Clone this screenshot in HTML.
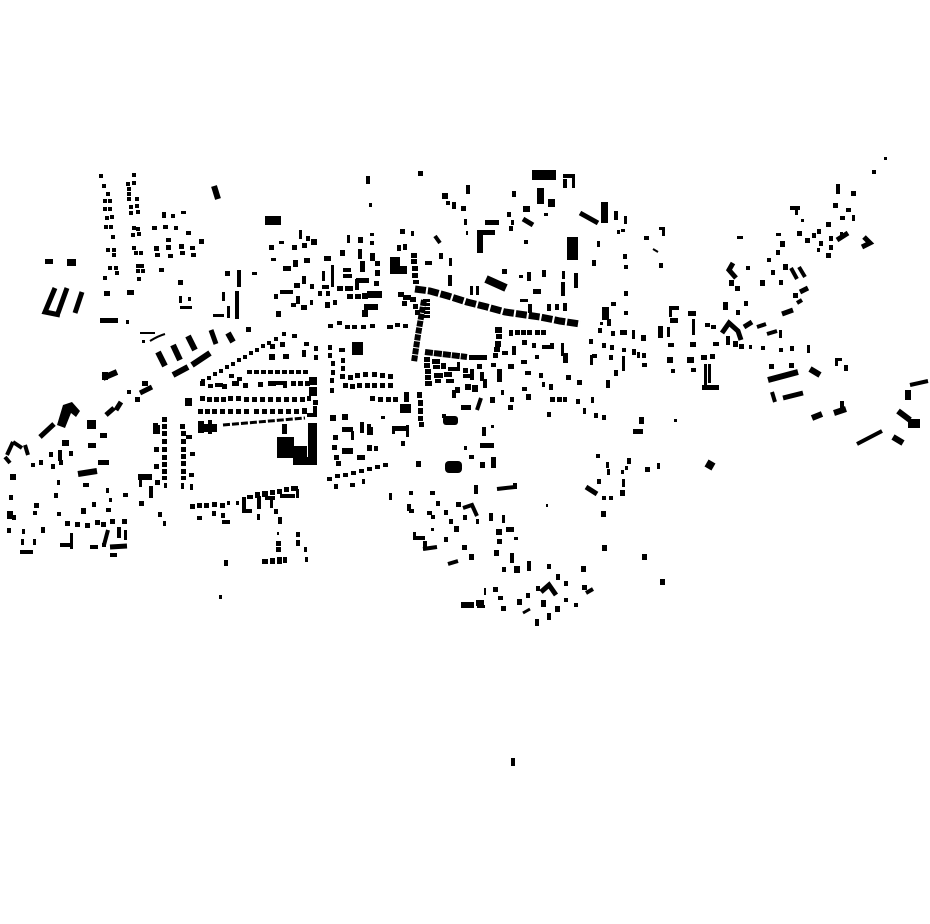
<!DOCTYPE html>
<html><head><meta charset="utf-8"><style>
html,body{margin:0;padding:0;background:#fff;}
body{width:930px;height:924px;overflow:hidden;position:relative;}
svg{position:absolute;left:0;top:0;}
</style></head><body>
<svg width="930" height="924" viewBox="0 0 930 924" xmlns="http://www.w3.org/2000/svg">
<rect width="930" height="924" fill="#fff"/>
<path fill="#000" d="
M99 174h4v4h-4zM102 184h4v4h-4zM106 192h4v4h-4zM103 199h4v4h-4zM108 199h4v4h-4zM103 207h4v4h-4zM108 207h4v4h-4zM105 216h4v4h-4zM110 215h4v4h-4zM104 225h4v4h-4zM109 225h4v4h-4zM111 235h4v4h-4zM106 248h4v4h-4zM112 248h4v4h-4zM112 253h4v4h-4zM108 266h4v4h-4zM114 266h4v4h-4zM115 271h4v4h-4zM103 276h4v4h-4z
M132 173h4v4h-4zM126 182h4v4h-4zM132 181h4v4h-4zM127 187h4v4h-4zM127 192h4v4h-4zM127 197h4v4h-4zM135 197h4v4h-4zM129 205h4v4h-4zM135 204h4v4h-4zM129 211h4v4h-4zM136 210h4v4h-4zM132 226h4v4h-4zM136 227h4v4h-4zM131 233h4v4h-4zM137 232h4v4h-4zM132 246h4v4h-4zM134 251h4v4h-4zM139 251h4v4h-4zM136 264h4v4h-4zM140 264h4v4h-4zM136 269h4v4h-4zM141 269h4v4h-4zM137 277h4v4h-4z
M162 212h4v6h-4zM171 214h4v4h-4zM181 211h5v3h-5zM152 226h5v4h-5zM163 225h5v4h-5zM174 226h4v4h-4zM186 231h5v4h-5zM199 239h5v5h-5zM166 238h5v4h-5zM154 246h5v5h-5zM166 245h5v5h-5zM179 244h5v5h-5zM190 246h5v4h-5zM155 253h5v4h-5zM168 254h5v4h-5zM180 251h5v4h-5zM191 253h5v4h-5zM159 268h5v4h-5z
M265 216h16v9h-16zM45 259h8v5h-8zM67 259h9v7h-9z
M104 291h6v5h-6zM127 290h7v5h-7zM100 318h18v5h-18zM126 320h3v4h-3z
M178 280h5v5h-5zM179 296h3v7h-3zM188 297h3v4h-3zM180 306h12v3h-12z
M225 271h5v5h-5zM237 270h4v17h-4zM252 272h5v3h-5z
M222 292h3v9h-3zM235 291h4v28h-4zM213 314h11v3h-11zM227 306h3v12h-3z
M269 245h5v5h-5zM279 241h5v3h-5zM292 245h5v5h-5zM299 230h3v9h-3zM302 243h5v5h-5zM306 236h4v5h-4zM271 258h5v3h-5zM283 266h8v5h-8zM293 260h5v7h-5zM304 258h6v5h-6zM302 276h4v8h-4zM294 283h6v5h-6zM280 290h13v4h-13zM274 294h4v5h-4zM296 296h4v8h-4zM291 303h5v4h-5zM301 305h6v5h-6zM276 311h5v6h-5z
M366 176h4v8h-4zM418 171h5v5h-5zM369 203h3v4h-3z
M442 193h6v6h-6zM446 201h4v4h-4zM452 202h4v7h-4zM461 206h5v5h-5zM466 185h4v9h-4zM464 219h3v6h-3zM466 231h2v4h-2z
M485 220h14v5h-14zM477 232h6v21h-6zM477 230h18v5h-18z
M532 170h24v10h-24zM563 174h12v4h-12zM572 174h3v14h-3zM563 179h4v9h-4zM537 188h7v16h-7zM548 199h7v8h-7z
M512 191h4v6h-4zM523 206h7v6h-7zM544 213h4v3h-4zM507 212h4v5h-4zM511 220h3v5h-3zM509 226h4v5h-4zM524 240h4v4h-4z
M601 202h7v21h-7zM614 211h4v9h-4zM617 230h3v4h-3zM567 237h11v23h-11zM597 241h3v6h-3zM592 260h4v6h-4z
M502 269h5v5h-5zM519 275h4v3h-4zM527 272h4v9h-4zM542 270h4v7h-4zM562 271h3v8h-3zM574 273h4v15h-4zM561 282h4v14h-4zM533 289h8v5h-8z
M311 239h6v6h-6zM347 235h3v8h-3zM358 237h5v6h-5zM370 233h4v3h-4zM370 241h4v4h-4zM324 256h7v5h-7zM340 250h5v6h-5zM358 249h4v10h-4zM370 253h5v8h-5zM360 261h5v11h-5zM375 261h5v5h-5zM375 270h5v6h-5zM343 268h8v4h-8zM343 274h9v4h-9zM322 271h3v10h-3zM331 265h3v22h-3zM322 285h7v4h-7z
M390 257h10v17h-10zM398 266h9v8h-9zM397 245h4v6h-4zM403 244h4v6h-4zM400 229h5v5h-5zM411 231h3v5h-3z
M411 253h6v5h-6zM411 259h6v5h-6zM412 266h6v5h-6zM412 273h6v5h-6zM413 280h6v4h-6zM425 261h7v4h-7zM439 253h4v6h-4zM449 258h3v8h-3z
M448 275h4v11h-4zM470 286h3v9h-3zM476 286h3v9h-3z
M310 284h4v5h-4zM318 291h4v5h-4zM326 291h4v5h-4zM337 286h6v5h-6zM345 286h8v5h-8zM355 279h4v11h-4zM356 278h13v5h-13zM374 281h5v5h-5zM347 294h6v5h-6zM355 294h6v5h-6zM362 293h6v6h-6zM367 291h15v7h-15zM325 302h5v6h-5zM333 300h4v5h-4zM364 304h14v6h-14zM362 310h6v7h-6zM310 300h3v5h-3z
M398 292h6v5h-6zM403 295h8v5h-8zM410 297h6v5h-6zM402 301h5v5h-5zM413 304h5v5h-5zM415 310h5v5h-5zM423 299h7v3h-7zM424 303h6v3h-6zM424 307h6v3h-6zM424 311h6v3h-6zM424 315h6v3h-6z
M520 299h8v3h-8zM528 304h4v9h-4zM547 304h4v7h-4zM555 304h4v6h-4zM563 303h4v8h-4zM602 307h7v13h-7zM611 302h5v4h-5z
M884 157h3v3h-3zM872 170h4v4h-4zM836 184h4v10h-4zM851 191h5v5h-5zM833 203h5v5h-5zM846 208h5v4h-5zM840 216h5v4h-5zM852 215h3v6h-3zM790 206h10v4h-10zM795 206h3v9h-3zM801 219h3v3h-3zM797 231h5v5h-5zM805 238h5v5h-5zM812 233h4v5h-4zM817 229h4v5h-4zM826 222h5v5h-5zM819 241h4v5h-4zM817 248h3v4h-3zM829 236h4v5h-4zM829 245h4v5h-4zM826 253h5v5h-5zM840 232h3v6h-3z
M624 216h3v8h-3zM621 229h4v3h-4zM644 236h5v4h-5zM659 227h6v3h-6zM662 227h3v9h-3zM623 254h4v5h-4zM624 265h4v4h-4zM659 263h4v5h-4z
M737 236h6v3h-6zM776 233h5v3h-5zM780 241h5v6h-5zM776 250h4v5h-4zM767 258h4v4h-4zM783 264h5v6h-5zM771 270h4v5h-4zM779 280h4v5h-4zM746 266h4v4h-4zM729 280h5v6h-5zM735 286h5v5h-5zM760 280h5v6h-5zM793 293h5v5h-5zM723 302h5v8h-5zM744 301h4v5h-4zM736 310h4v5h-4zM624 291h4v5h-4zM624 311h4v4h-4zM669 306h10v4h-10zM669 306h3v11h-3zM688 311h8v5h-8z
M140 332h15v2h-15zM142 340h3v3h-3z
M246 327h5v5h-5zM102 372h6v8h-6zM142 381h6v5h-6zM127 390h4v4h-4zM135 397h5v5h-5z
M87 420h9v9h-9zM100 433h7v5h-7zM88 443h8v5h-8zM62 440h7v6h-7zM49 452h4v5h-4zM58 450h4v11h-4zM69 451h4v5h-4zM31 463h4v4h-4zM39 460h4v5h-4zM51 464h4v5h-4zM59 460h4v5h-4zM98 460h11v5h-11zM10 474h6v6h-6zM138 474h14v6h-14z
M201 379h4v4h-4zM207 376h4v4h-4zM213 372h4v4h-4zM219 369h4v4h-4zM225 365h4v4h-4zM231 362h4v4h-4zM237 358h4v4h-4zM243 355h4v4h-4zM249 351h4v4h-4zM255 348h4v4h-4zM261 344h4v4h-4zM267 341h4v4h-4zM274 337h4v4h-4zM282 332h4v4h-4zM185 398h7v8h-7z
M270 344h5v5h-5zM280 342h5v5h-5zM283 354h6v5h-6zM269 354h6v6h-6zM292 334h5v4h-5zM302 350h4v7h-4zM304 342h5v4h-5z
M247 370h5v4h-5zM254 370h5v4h-5zM261 370h5v4h-5zM268 370h5v4h-5zM275 370h5v4h-5zM282 370h5v4h-5zM289 370h5v4h-5zM296 370h5v4h-5zM303 370h5v4h-5zM229 374h5v4h-5zM237 377h5v4h-5z
M200 381h5v5h-5zM208 384h5v4h-5zM215 383h8v4h-8zM222 384h5v5h-5zM232 381h7v5h-7zM243 383h5v5h-5zM258 382h5v5h-5zM268 381h8v5h-8zM276 381h8v4h-8zM283 381h4v7h-4zM291 381h5v5h-5zM298 381h5v5h-5zM305 381h5v5h-5z
M200 396h5v5h-5zM207 397h5v5h-5zM214 397h5v5h-5zM221 397h5v5h-5zM228 396h5v5h-5zM236 396h5v5h-5zM244 397h5v5h-5zM252 397h5v5h-5zM260 397h5v5h-5zM268 397h5v5h-5zM276 397h5v5h-5zM284 397h5v5h-5zM292 397h5v5h-5zM300 397h5v5h-5zM307 396h4v5h-4z
M198 409h5v5h-5zM205 409h5v5h-5zM212 409h5v5h-5zM220 409h5v5h-5zM228 409h5v5h-5zM236 409h5v5h-5zM244 409h5v5h-5zM254 409h5v5h-5zM262 409h5v5h-5zM270 409h5v5h-5zM278 409h5v5h-5zM286 409h5v5h-5zM294 409h5v5h-5zM302 408h5v6h-5zM313 406h4v11h-4zM307 413h8v4h-8z
M162 417h5v5h-5zM162 424h5v5h-5zM162 431h5v5h-5zM162 439h5v5h-5zM162 447h5v5h-5zM162 455h5v5h-5zM162 462h5v5h-5zM162 469h5v5h-5zM162 476h5v4h-5zM180 424h5v5h-5zM181 431h5v5h-5zM181 439h5v5h-5zM181 447h5v5h-5zM181 454h5v5h-5zM181 461h5v5h-5zM181 469h5v5h-5zM181 476h5v4h-5zM186 435h6v4h-6zM190 452h5v4h-5zM189 473h5v4h-5zM153 423h5v11h-5zM157 425h3v9h-3zM154 447h5v5h-5zM154 464h5v5h-5z
M198 421h6v12h-6zM203 424h14v8h-14zM208 420h4v14h-4z
M277 437h17v21h-17zM282 424h5v10h-5zM292 446h15v12h-15zM293 457h24v8h-24zM308 423h9v40h-9z
M328 324h5v4h-5zM337 321h5v4h-5zM345 325h5v4h-5zM352 325h5v4h-5zM361 325h5v4h-5zM370 324h5v4h-5zM387 325h6v4h-6zM395 323h5v4h-5zM403 324h5v4h-5z
M352 342h11v13h-11zM328 345h4v5h-4zM328 353h4v5h-4zM331 361h4v5h-4zM331 370h4v5h-4zM330 378h4v5h-4zM330 388h4v5h-4zM339 348h6v4h-6zM341 358h4v5h-4zM341 366h4v5h-4zM314 346h4v5h-4zM314 355h4v5h-4z
M340 374h5v5h-5zM348 375h5v5h-5zM355 373h5v5h-5zM363 372h5v5h-5zM372 372h5v5h-5zM380 373h5v5h-5zM388 374h5v5h-5zM343 383h5v5h-5zM350 384h5v5h-5zM357 383h5v5h-5zM365 383h5v5h-5zM372 383h5v5h-5zM380 383h5v5h-5zM388 383h5v5h-5z
M309 377h8v8h-8zM309 387h8v9h-8zM313 400h5v5h-5z
M370 396h5v5h-5zM378 397h5v5h-5zM386 397h5v5h-5zM393 397h5v5h-5zM404 392h5v10h-5zM417 392h5v6h-5zM418 400h5v6h-5zM418 408h5v6h-5zM418 416h5v5h-5zM419 422h5v5h-5zM400 404h11v9h-11z
M381 416h4v3h-4zM330 415h6v6h-6zM342 414h6v6h-6zM333 435h5v5h-5zM332 445h5v5h-5zM334 455h5v5h-5zM336 461h5v5h-5z
M342 427h11v5h-11zM351 431h3v9h-3zM360 422h4v11h-4zM367 424h4v11h-4zM371 427h2v8h-2zM367 445h5v6h-5zM374 446h4v5h-4zM342 448h11v6h-11zM357 455h8v5h-8zM392 426h14v5h-14zM406 425h3v12h-3zM392 428h3v6h-3zM401 441h4v5h-4z
M327 477h5v4h-5zM335 474h5v4h-5zM343 473h5v4h-5zM351 471h5v4h-5zM359 469h5v4h-5zM367 467h5v4h-5zM375 465h5v4h-5zM383 463h5v4h-5zM416 461h5v6h-5z
M469 355h18v5h-18zM424 357h6v5h-6zM424 363h6v5h-6zM425 369h6v5h-6zM425 375h6v5h-6zM425 381h7v5h-7zM432 359h8v5h-8zM433 365h7v4h-7zM441 363h5v6h-5zM434 373h9v5h-9zM444 372h8v5h-8zM435 379h6v4h-6zM446 379h8v4h-8zM448 367h12v4h-12zM457 362h3v7h-3zM463 368h5v5h-5zM470 369h4v11h-4zM463 374h7v4h-7zM477 364h5v5h-5zM480 372h4v9h-4zM483 379h4v9h-4zM465 384h6v6h-6zM472 385h6v7h-6zM455 387h5v6h-5z
M495 327h7v6h-7zM496 334h6v5h-6zM495 341h6v6h-6zM494 347h6v5h-6zM493 353h5v5h-5zM491 363h5v4h-5zM497 369h5v13h-5z
M509 330h4v6h-4zM515 330h5v5h-5zM521 330h5v5h-5zM527 330h5v5h-5zM535 330h5v5h-5zM541 330h5v5h-5z
M512 346h4v9h-4zM522 340h5v5h-5zM532 343h4v5h-4zM542 345h12v4h-12zM550 343h4v5h-4zM502 351h6v4h-6zM521 360h6v4h-6zM508 364h6v5h-6zM535 355h4v4h-4zM561 343h3v13h-3zM563 353h5v10h-5zM525 371h6v4h-6zM539 373h4v5h-4zM549 384h4v6h-4zM542 382h3v5h-3zM522 387h5v4h-5zM526 394h5v6h-5zM490 397h5v6h-5zM501 390h3v5h-3zM510 397h4v5h-4zM508 405h5v5h-5zM461 405h10v5h-10zM452 390h4v8h-4zM442 414h4v4h-4zM482 427h4v9h-4zM480 443h14v5h-14zM491 425h3v3h-3zM464 446h3v4h-3zM469 455h5v4h-5zM480 462h5v6h-5zM491 457h5v11h-5z
M550 397h5v5h-5zM557 397h5v5h-5zM563 397h4v5h-4zM576 399h4v5h-4zM591 397h3v6h-3zM566 375h5v5h-5zM577 380h5v5h-5zM606 380h4v8h-4zM614 370h4v6h-4zM589 339h4v5h-4zM602 343h4v5h-4zM610 345h4v5h-4zM598 328h4v5h-4zM611 331h4v5h-4zM607 319h4v7h-4zM590 355h3v10h-3zM592 354h5v4h-5zM609 355h4v5h-4zM602 415h4v5h-4zM594 413h4v5h-4zM583 408h3v6h-3zM547 412h4v5h-4zM596 454h4v4h-4zM606 462h3v6h-3zM607 469h3v6h-3zM600 322h3v3h-3z
M670 318h8v5h-8zM692 319h3v16h-3zM705 323h5v4h-5zM711 325h5v4h-5zM726 336h4v9h-4zM779 330h3v8h-3z
M620 330h7v5h-7zM632 330h3v9h-3zM641 335h5v6h-5zM658 326h5v12h-5zM667 327h3v10h-3zM668 343h6v4h-6zM690 342h6v5h-6zM713 342h6v4h-6zM733 341h5v6h-5zM739 344h5v5h-5zM749 345h3v4h-3zM761 346h4v4h-4zM779 348h4v4h-4zM790 346h4v5h-4zM807 345h3v8h-3z
M622 348h4v4h-4zM632 349h4v6h-4zM637 352h3v6h-3zM642 353h4v5h-4zM622 356h3v15h-3zM642 363h5v4h-5zM667 357h6v6h-6zM671 369h4v4h-4zM687 357h7v6h-7zM691 368h5v4h-5zM701 355h6v5h-6zM710 354h5v5h-5zM704 364h3v23h-3zM708 364h3v19h-3zM702 385h17v5h-17z
M769 364h5v5h-5zM789 363h5v5h-5zM835 358h3v8h-3zM835 358h7v3h-7zM844 365h4v6h-4zM840 401h4v9h-4zM905 390h6v10h-6zM908 419h12v9h-12z
M639 417h5v7h-5zM633 429h10v5h-10zM674 419h3v3h-3zM627 458h4v6h-4zM625 466h3v4h-3zM645 467h5v5h-5zM657 463h3v6h-3zM621 470h3v4h-3z
M9 495h4v5h-4zM7 511h6v8h-6zM12 515h4v5h-4zM34 503h5v5h-5zM33 511h4v4h-4zM54 493h4v5h-4zM57 480h3v5h-3zM83 483h6v4h-6zM57 512h4v4h-4zM81 508h5v6h-5zM92 502h4v5h-4zM106 488h3v5h-3zM106 508h5v4h-5zM109 498h3v4h-3zM123 493h5v4h-5zM139 479h3v8h-3zM149 486h4v12h-4zM155 480h5v5h-5zM164 483h3v5h-3zM139 501h5v5h-5zM181 483h3v6h-3zM190 484h3v6h-3zM158 512h4v5h-4zM163 521h3v5h-3z
M7 528h4v5h-4zM22 529h3v5h-3zM41 527h4v6h-4zM21 539h3v6h-3zM33 539h3v6h-3zM20 550h13v4h-13z
M65 521h5v5h-5zM75 522h5v5h-5zM85 523h5v5h-5zM95 520h5v5h-5zM101 522h5v5h-5zM110 519h5v5h-5zM122 519h5v5h-5zM70 533h3v16h-3zM60 543h13v4h-13zM90 545h8v4h-8zM102 543h4v4h-4zM117 527h4v11h-4zM124 530h3v10h-3zM110 553h7v4h-7z
M190 504h5v5h-5zM197 503h5v5h-5zM204 503h5v5h-5zM212 502h5v5h-5zM220 503h5v5h-5zM197 516h5v4h-5zM212 511h4v5h-4zM221 513h4v5h-4zM222 520h8v4h-8zM227 501h3v4h-3zM236 501h3v4h-3zM242 497h4v16h-4zM242 509h10v4h-10z
M247 495h6v4h-6zM255 492h5v6h-5zM262 491h6v6h-6zM270 490h5v5h-5zM277 489h5v5h-5zM284 487h5v5h-5zM291 486h7v5h-7zM296 489h3v9h-3zM280 494h15v4h-15zM257 496h4v13h-4zM265 496h10v4h-10zM270 499h3v9h-3zM257 514h3v6h-3zM274 509h4v5h-4zM278 517h4v7h-4zM277 532h2v3h-2zM276 541h5v5h-5zM276 547h5v5h-5zM296 532h4v5h-4zM296 540h4v6h-4zM304 547h3v5h-3zM305 557h3v5h-3zM262 559h6v5h-6zM270 558h5v6h-5zM277 557h5v7h-5zM283 557h4v6h-4zM224 560h4v6h-4zM219 595h3v4h-3z
M334 484h4v5h-4zM350 483h5v4h-5zM362 479h3v5h-3zM389 493h3v7h-3zM409 491h4v4h-4zM430 491h5v4h-5zM474 485h4v9h-4zM513 483h4v6h-4zM407 504h4v7h-4zM409 509h5v4h-5zM436 501h4v5h-4zM456 502h5v5h-5zM427 511h5v4h-5zM431 515h4v4h-4zM444 510h4v5h-4zM449 519h4v5h-4zM463 515h4v5h-4zM476 519h3v5h-3zM489 513h4v8h-4zM502 515h3v8h-3zM454 526h5v6h-5zM431 528h3v3h-3zM413 532h3v6h-3zM413 536h12v4h-12zM423 541h4v9h-4zM444 537h4v5h-4zM462 545h5v5h-5zM469 554h5v6h-5zM494 550h5v6h-5zM496 529h6v6h-6zM506 527h8v5h-8zM497 539h5v5h-5zM514 537h4v3h-4zM510 553h4v10h-4zM502 567h4v5h-4zM514 566h6v7h-6zM527 561h4v10h-4zM547 564h4v5h-4zM556 574h4v6h-4zM564 581h4v5h-4zM581 566h5v6h-5zM582 585h5v5h-5z
M484 588h2v7h-2zM493 587h5v5h-5zM498 596h5v4h-5zM461 602h13v6h-13zM476 600h8v6h-8zM477 605h8v3h-8zM501 606h5v5h-5zM517 599h5v6h-5zM526 593h4v5h-4zM536 586h4v5h-4zM541 600h5v7h-5zM555 606h5v6h-5zM564 598h4v4h-4zM574 603h4v4h-4zM547 613h4v7h-4zM535 619h4v7h-4z
M597 479h4v5h-4zM602 496h4v4h-4zM609 496h4v4h-4zM601 511h5v6h-5zM620 490h5v6h-5zM622 479h3v8h-3zM602 545h5v6h-5zM642 554h5v6h-5zM660 579h5v6h-5zM546 504h2v3h-2zM511 758h4v8h-4z
M63 405L72 402L80 411L76 417L71 413L65 428L57 425z
"/>
<g stroke="#000" fill="none" stroke-linecap="butt">
<path stroke-width="6" d="M214 186L218 199"/>
<path stroke-width="5" d="M55 288L45 312L60 315M67 288L58 313M82 292L75 313"/>
<path stroke-width="5" d="M523 219L533 225M580 213L598 223"/>
<path stroke-width="8" d="M486 279L506 288"/>
<path stroke-width="4" d="M435 236L440 243"/>
<path stroke-width="7" stroke-dasharray="11 2" d="M415 289L430 291L448 296L467 302L487 307L505 312L540 317L560 321L580 324"/>
<path stroke-width="5" d="M837 240L848 233M864 237L870 243L862 247"/>
<path stroke-width="2" d="M653 249L658 252"/>
<path stroke-width="4" d="M791 268L797 279M799 267L805 277M797 303L802 300"/>
<path stroke-width="5" d="M733 263L729 270L736 278M800 292L808 288M782 314L793 310"/>
<path stroke-width="2" d="M150 341Q158 336 165 334"/>
<path stroke-width="6" d="M158 352L165 366M173 345L180 360M188 336L195 350M228 333L233 342M192 365L210 353M173 375L188 367M103 378L117 372"/>
<path stroke-width="5" d="M211 330L216 344M140 393L152 387M106 415L114 408M116 410L121 402M40 437L54 424"/>
<path stroke-width="4" d="M13 442L7 455M13 442L22 448M25 445L28 455M5 457L10 463"/>
<path stroke-width="6" d="M78 474L97 471"/>
<path stroke-width="3" stroke-dasharray="7 2" d="M223 425L305 418"/>
<path stroke-width="6" stroke-dasharray="6 1" d="M424 300L418 335L414 362"/>
<path stroke-width="6" stroke-dasharray="8 1" d="M425 352L467 357"/>
<path stroke-width="4" d="M477 410L481 398"/>
<path stroke-width="5" d="M722 333L729 323L738 331L741 340M744 327L752 322"/>
<path stroke-width="4" d="M757 327L766 324M767 334L777 331M772 392L775 402"/>
<path stroke-width="6" d="M768 380L798 372M810 369L820 375M812 418L822 414M834 413L846 409M898 411L910 420M893 437L903 443"/>
<path stroke-width="5" d="M783 398L803 393"/>
<path stroke-width="4" d="M910 385L928 381M857 444L882 431"/>
<path stroke-width="4" d="M108 530L104 545"/>
<path stroke-width="5" d="M110 547L127 546"/>
<path stroke-width="4" d="M497 489L515 487M463 508L472 505L477 516M448 564L458 561M586 593L593 589M423 549L437 547"/>
<path stroke-width="5" d="M541 592L549 585L556 595M586 487L597 494"/>
<path stroke-width="3" d="M523 613L530 609"/>
</g>
<rect x="443" y="416" width="15" height="9" rx="3" fill="#000"/>
<rect x="445" y="461" width="17" height="12" rx="4" fill="#000"/>
<rect x="706" y="461" width="8" height="8" fill="#000" transform="rotate(30 710 465)"/>
</svg>
</body></html>
